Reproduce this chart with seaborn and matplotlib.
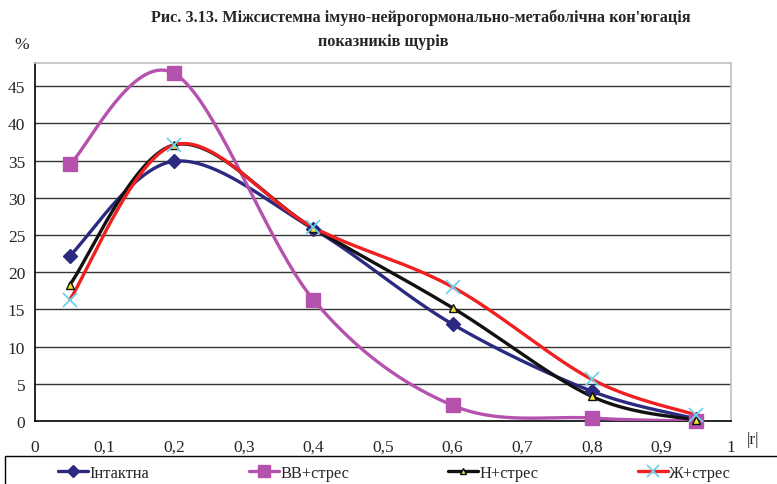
import numpy as np
import pandas as pd
import matplotlib
matplotlib.use("Agg")
import matplotlib.pyplot as plt
import seaborn as sns
from matplotlib.lines import Line2D
from matplotlib.patches import Rectangle

# ---- data ----
r_values = [0.05, 0.2, 0.4, 0.6, 0.8, 0.95]
intact = [22.2, 34.9, 25.8, 13.0, 4.0, 0.3]
vv_stress = [34.5, 46.7, 16.3, 2.1, 0.4, 0.0]
n_stress = [18.3, 37.1, 25.9, 15.2, 3.3, 0.1]
zh_stress = [16.3, 37.1, 26.0, 18.0, 5.6, 0.8]
series_names = ["Інтактна", "ВВ+стрес", "Н+стрес", "Ж+стрес"]
x_ticks = [0, 0.1, 0.2, 0.3, 0.4, 0.5, 0.6, 0.7, 0.8, 0.9, 1.0]
y_ticks = [0, 5, 10, 15, 20, 25, 30, 35, 40, 45]
title_line1 = "Рис. 3.13. Міжсистемна імуно-нейрогормонально-метаболічна кон'югація"
title_line2 = "показників щурів"

sns.set_style("white")
plt.rcParams['font.family'] = ['Liberation Serif', 'DejaVu Serif']


def smooth(xs, ys, n=40):
    """Excel-style smoothed line (cubic Bezier through points)."""
    P = np.column_stack([xs, ys]).astype(float)
    m = len(P)
    out = []
    for i in range(m - 1):
        p0 = P[i - 1] if i > 0 else P[i]
        p1 = P[i]
        p2 = P[i + 1]
        p3 = P[i + 2] if i + 2 < m else P[i + 1]
        c1 = p1 + (p2 - p0) / 6.0
        c2 = p2 - (p3 - p1) / 6.0
        t = np.linspace(0, 1, n)[:, None]
        seg = ((1 - t) ** 3) * p1 + 3 * ((1 - t) ** 2) * t * c1 + 3 * (1 - t) * t ** 2 * c2 + t ** 3 * p2
        out.append(seg if i == 0 else seg[1:])
    s = np.vstack(out)
    return s[:, 0], s[:, 1]


fig = plt.figure(figsize=(7.77, 4.85), dpi=100)
ax = fig.add_axes([35 / 777, 1 - 422 / 485, (731 - 35) / 777, (422 - 64) / 485])

styles = [
    dict(color="#2B2A80", marker="D", ms=7.5, mfc="#2B2A80", mec="#2B2A80", mew=1),
    dict(color="#B452AE", marker="s", ms=10, mfc="#B452AE", mec="#B452AE", mew=1),
    dict(color="#111111", marker="^", ms=6, mfc="#F2E23A", mec="#111111", mew=1),
    dict(color="#F02020", marker="x", ms=10, mfc="none", mec="#6FD0E8", mew=1.3),
]
legend_ms = [6, 8, 5, 8]
all_series = [intact, vv_stress, n_stress, zh_stress]

for name, ys, st in zip(series_names, all_series, styles):
    sx, sy = smooth(r_values, ys)
    df = pd.DataFrame({"r": sx, "v": sy})
    sns.lineplot(data=df, x="r", y="v", sort=False, estimator=None, ax=ax,
                 color=st["color"], linewidth=2.4, legend=False, zorder=3)
for name, ys, st in zip(series_names, all_series, styles):
    ax.plot(r_values, ys, linestyle="none", marker=st["marker"], ms=st["ms"],
            mfc=st["mfc"], mec=st["mec"], mew=st["mew"], zorder=4, clip_on=False)

ax.set_xlim(0, 1)
ax.set_ylim(0, 48.1)
ax.set_xticks(x_ticks)
ax.set_xticklabels([("%g" % v).replace(".", ",") for v in x_ticks], fontsize=12.5)
ax.set_yticks(y_ticks)
ax.set_yticklabels([str(v) for v in y_ticks], fontsize=12.5)
ax.tick_params(axis="both", direction="out", length=4, width=1, color="black")
ax.tick_params(axis="y", pad=3)
ax.tick_params(axis="x", pad=9)
for v in y_ticks[1:]:
    ax.axhline(v, color="#333333", lw=1.0, zorder=1)
ax.set_xlabel("")
ax.set_ylabel("")
ax.spines["left"].set_color("black")
ax.spines["bottom"].set_color("black")
ax.spines["top"].set_color("#C0C0C0")
ax.spines["right"].set_color("#C0C0C0")
for s in ax.spines.values():
    s.set_linewidth(1.2)

fig.text(421 / 777, 1 - 18 / 485, title_line1, ha="center", va="center", fontsize=11.7,
         fontweight="bold")
fig.text(383 / 777, 1 - 42 / 485, title_line2, ha="center", va="center", fontsize=11.7,
         fontweight="bold")
fig.text(22 / 777, 1 - 45 / 485, "%", ha="center", va="center", fontsize=12.5)
fig.text(753 / 777, 1 - 440 / 485, "|r|", ha="center", va="center", fontsize=12.5)

# legend frame
fig.patches.append(Rectangle((5 / 777, -0.05), 0.999, 0.05 + (485 - 457) / 485,
                             transform=fig.transFigure, fill=False,
                             edgecolor="black", lw=1.0))
leg_x = [58, 249, 448, 638]
for name, st, lx, lms in zip(series_names, styles, leg_x, legend_ms):
    h = Line2D([], [], color=st["color"], lw=2.4, marker=st["marker"],
               ms=lms, mfc=st["mfc"], mec=st["mec"], mew=st["mew"])
    lg = fig.legend([h], [name], loc="center left",
                    bbox_to_anchor=(lx / 777, 1 - 474 / 485), frameon=False,
                    fontsize=11.8, handlelength=1.8, handletextpad=0.1,
                    borderpad=0, borderaxespad=0)

fig.savefig("out.png", dpi=100)
